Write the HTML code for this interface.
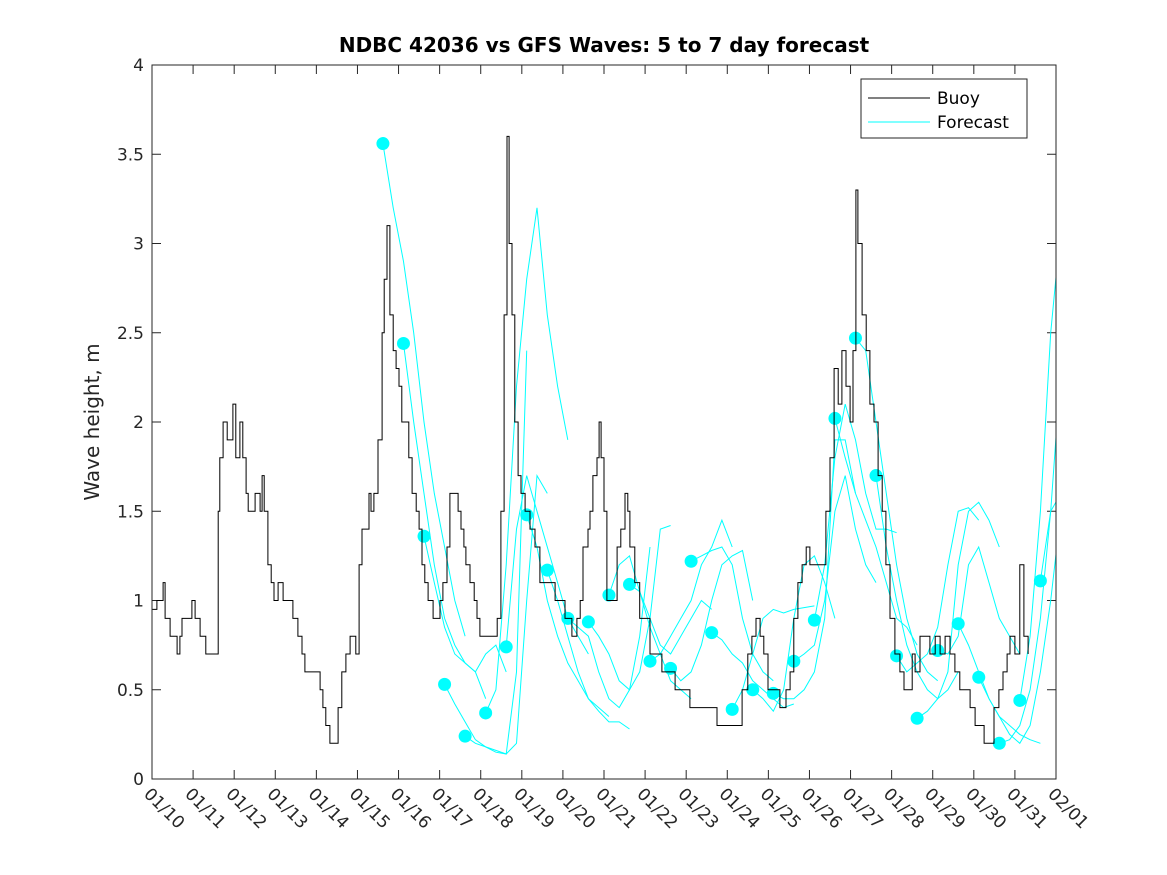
<!DOCTYPE html>
<html><head><meta charset="utf-8"><style>
html,body{margin:0;padding:0;background:#fff;}
svg{display:block;font-family:"DejaVu Sans","Liberation Sans",sans-serif;}
</style></head><body>
<svg id="chart" width="1167" height="875" viewBox="0 0 1167 875" xmlns="http://www.w3.org/2000/svg">
<rect width="1167" height="875" fill="#fff"/>
<text x="604" y="52" text-anchor="middle" font-size="20" font-weight="bold" fill="#000">NDBC 42036 vs GFS Waves: 5 to 7 day forecast</text>
<text transform="translate(99,422) rotate(-90)" text-anchor="middle" font-size="20" fill="#262626">Wave height, m</text>
<defs><clipPath id="plotclip"><rect x="152" y="65" width="904" height="714"/></clipPath></defs>
<g id="grid-ticks"></g>
<g id="forecast-g" clip-path="url(#plotclip)"></g>
<g id="buoy-g" clip-path="url(#plotclip)"></g>
<rect x="152" y="65" width="904" height="714" fill="none" stroke="#262626" stroke-width="1"/>
<g>
<rect x="861" y="79" width="166" height="59" fill="#fff" stroke="#262626" stroke-width="1"/>
<line x1="868" y1="98" x2="930" y2="98" stroke="#000" stroke-width="1"/>
<text x="937" y="104" font-size="17" fill="#000">Buoy</text>
<line x1="868" y1="122" x2="930" y2="122" stroke="#00ffff" stroke-width="1"/>
<text x="937" y="128" font-size="17" fill="#000">Forecast</text>
</g>
</svg>
<script>
const xTickLabels = ["01/10","01/11","01/12","01/13","01/14","01/15","01/16","01/17","01/18","01/19","01/20","01/21","01/22","01/23","01/24","01/25","01/26","01/27","01/28","01/29","01/30","01/31","02/01"];
const yTicks = [0,0.5,1,1.5,2,2.5,3,3.5,4];
const yTickLabels = ["0","0.5","1","1.5","2","2.5","3","3.5","4"];
const buoyDays = [0,.12,.24,.27,.32,.39,.44,.58,.61,.68,.73,.92,.97,1.05,1.17,1.27,1.31,1.53,1.61,1.65,1.73,1.83,1.95,1.97,2.04,2.14,2.21,2.29,2.34,2.51,2.63,2.68,2.73,2.82,2.90,2.97,3.07,3.19,3.33,3.43,3.55,3.65,3.72,3.94,4.09,4.16,4.23,4.33,4.45,4.53,4.62,4.72,4.82,4.92,4.96,5.04,5.11,5.21,5.28,5.33,5.40,5.50,5.60,5.65,5.72,5.79,5.87,5.94,6.01,6.08,6.16,6.25,6.33,6.43,6.50,6.57,6.64,6.72,6.84,6.91,7.01,7.08,7.18,7.25,7.37,7.45,7.52,7.59,7.64,7.74,7.84,7.91,7.98,8.10,8.23,8.35,8.40,8.49,8.57,8.64,8.69,8.76,8.83,8.91,8.98,9.08,9.20,9.32,9.44,9.56,9.68,9.81,9.93,10.05,10.17,10.22,10.34,10.42,10.49,10.61,10.66,10.73,10.83,10.88,10.93,11.00,11.07,11.15,11.22,11.32,11.41,11.51,11.58,11.63,11.75,11.87,12.00,12.12,12.31,12.41,12.73,12.85,13.09,13.70,13.75,14.31,14.36,14.50,14.60,14.70,14.80,14.89,14.99,15.16,15.28,15.43,15.53,15.62,15.72,15.82,15.92,16.01,16.14,16.26,16.40,16.50,16.60,16.70,16.79,16.89,16.99,17.06,17.13,17.18,17.28,17.38,17.47,17.57,17.67,17.77,17.86,17.96,18.08,18.20,18.30,18.45,18.50,18.57,18.69,18.81,18.93,19.06,19.18,19.30,19.42,19.54,19.66,19.81,19.91,20.03,20.15,20.25,20.39,20.49,20.61,20.71,20.81,20.88,21.00,21.12,21.22,21.32];
const buoyValues = [0.95,1.0,1.0,1.1,0.9,0.9,0.8,0.8,0.7,0.8,0.9,0.9,1.0,0.9,0.8,0.8,0.7,0.7,1.5,1.8,2.0,1.9,1.9,2.1,1.8,2.0,1.8,1.6,1.5,1.6,1.5,1.7,1.5,1.2,1.1,1.0,1.1,1.0,1.0,0.9,0.8,0.7,0.6,0.6,0.5,0.4,0.3,0.2,0.2,0.4,0.6,0.7,0.8,0.8,0.7,1.2,1.4,1.4,1.6,1.5,1.6,1.9,2.5,2.8,3.1,2.6,2.4,2.3,2.2,2.0,2.0,1.8,1.6,1.5,1.4,1.2,1.1,1.0,0.9,0.9,1.0,1.1,1.3,1.6,1.6,1.5,1.4,1.3,1.2,1.1,1.0,0.9,0.8,0.8,0.8,0.8,0.9,1.5,2.6,3.6,3.0,2.6,2.0,1.7,1.6,1.5,1.4,1.3,1.1,1.1,1.1,1.0,1.0,0.9,0.9,0.8,0.9,1.0,1.3,1.4,1.5,1.7,1.8,2.0,1.8,1.5,1.0,1.0,1.0,1.3,1.4,1.6,1.5,1.3,1.1,0.9,0.9,0.7,0.7,0.6,0.5,0.5,0.4,0.4,0.3,0.3,0.5,0.7,0.8,0.9,0.8,0.7,0.5,0.5,0.4,0.5,0.6,0.9,1.1,1.2,1.3,1.2,1.2,1.2,1.5,1.8,2.3,2.1,2.4,2.2,2.0,2.4,3.3,3.0,2.6,2.4,2.1,2.0,1.7,1.5,1.2,0.9,0.7,0.6,0.5,0.5,0.7,0.6,0.8,0.8,0.7,0.8,0.7,0.8,0.7,0.6,0.5,0.5,0.4,0.3,0.3,0.2,0.2,0.4,0.5,0.6,0.7,0.8,0.7,1.2,0.8,0.7];
const forecastStartDays = [5.62,6.12,6.62,7.12,7.62,8.12,8.62,9.12,9.62,10.12,10.62,11.12,11.62,12.12,12.62,13.12,13.62,14.12,14.62,15.12,15.62,16.12,16.62,17.12,17.62,18.12,18.62,19.12,19.62,20.12,20.62,21.12,21.62];
const forecastStepDays = 0.25;
const forecastValues = [
[3.56,3.2,2.9,2.5,2.0,1.6,1.3,1.0,0.8],
[2.44,2.0,1.6,1.2,0.9,0.75,0.65,0.6,0.45],
[1.36,1.1,0.85,0.7,0.65,0.6,0.7,0.75,0.6],
[0.53,0.42,0.32,0.22,0.18,0.15,0.14,0.6,2.4],
[0.24,0.2,0.18,0.16,0.14,0.2,1.0,1.7,1.6],
[0.37,0.5,1.2,2.2,2.8,3.2,2.6,2.2,1.9],
[0.74,1.4,1.7,1.5,1.3,1.1,0.9,0.8,0.7],
[1.48,1.3,1.0,0.8,0.65,0.55,0.45,0.4,0.35],
[1.17,1.0,0.8,0.6,0.45,0.38,0.32,0.32,0.28],
[0.9,0.85,0.8,0.6,0.45,0.4,0.5,0.8,1.3],
[0.88,0.8,0.7,0.55,0.5,0.6,0.9,1.4,1.42],
[1.03,1.2,1.25,1.05,0.85,0.7,0.55,0.5,0.45],
[1.09,1.05,0.9,0.75,0.7,0.8,0.9,1.0,0.95],
[0.66,0.7,0.8,0.9,1.0,1.2,1.3,1.45,1.3],
[0.62,0.55,0.6,0.75,1.0,1.2,1.25,1.28,1.0],
[1.22,1.25,1.28,1.3,1.2,0.9,0.7,0.6,0.55],
[0.82,0.78,0.7,0.65,0.55,0.5,0.45,0.4,0.42],
[0.39,0.5,0.7,0.9,0.95,0.93,0.95,0.96,0.97],
[0.5,0.45,0.38,0.5,0.9,1.2,1.25,1.1,0.9],
[0.48,0.45,0.45,0.5,0.6,0.9,1.9,1.9,1.6],
[0.66,0.7,0.75,1.0,1.5,1.7,1.4,1.2,1.1],
[0.89,1.2,1.8,2.1,1.9,1.6,1.4,1.4,1.38],
[2.02,1.8,1.6,1.45,1.3,1.1,0.9,0.85,0.75],
[2.47,2.4,2.0,1.6,1.2,0.9,0.7,0.6,0.55],
[1.7,1.3,1.0,0.75,0.6,0.5,0.45,0.5,0.6],
[0.69,0.6,0.65,0.7,0.85,1.2,1.5,1.52,1.45],
[0.34,0.38,0.45,0.6,1.2,1.5,1.55,1.45,1.3],
[0.72,0.7,0.8,1.2,1.3,1.1,0.9,0.8,0.7],
[0.87,0.75,0.6,0.45,0.35,0.3,0.25,0.22,0.2],
[0.57,0.45,0.35,0.25,0.2,0.3,0.6,1.0,1.5],
[0.2,0.22,0.3,0.5,0.9,1.5,1.6,1.55,1.5],
[0.44,0.8,1.5,2.5,3.1,3.15,3.1],
[1.11,1.5,2.3,2.8]
];
const NS="http://www.w3.org/2000/svg";
const X0=152,X1=1056,Y0=779,Y1=65,DAYS=22,YMAX=4;
function xs(d){return X0+(X1-X0)*d/DAYS;}
function ys(v){return Y0-(Y0-Y1)*v/YMAX;}
function mk(tag,attrs,parent){const e=document.createElementNS(NS,tag);for(const k in attrs)e.setAttribute(k,attrs[k]);parent.appendChild(e);return e;}
const gt=document.getElementById('grid-ticks');
xTickLabels.forEach((lab,i)=>{
  const x=xs(i);
  const t1=mk('line',{x1:x,y1:Y0,x2:x,y2:Y0-9,stroke:'#262626','stroke-width':1},gt);
  
  
  const t2=mk('line',{x1:x,y1:Y1,x2:x,y2:Y1+9,stroke:'#262626','stroke-width':1},gt);
  
  
  const tx=mk('text',{transform:`translate(${x-9},${Y0+16}) rotate(45)`,'font-size':17,fill:'#262626'},gt);
  tx.textContent=lab;
  
  
});
yTicks.forEach((v,i)=>{
  const y=ys(v);
  const t1=mk('line',{x1:X0,y1:y,x2:X0+9,y2:y,stroke:'#262626','stroke-width':1},gt);
  
  
  const t2=mk('line',{x1:X1,y1:y,x2:X1-9,y2:y,stroke:'#262626','stroke-width':1},gt);
  
  
  const tx=mk('text',{x:X0-8,y:y+6,'text-anchor':'end','font-size':17,fill:'#262626'},gt);
  tx.textContent=yTickLabels[i];
  
  
});
const fg=document.getElementById('forecast-g');
forecastValues.forEach((vals,i)=>{
  const pts=vals.map((v,j)=>xs(forecastStartDays[i]+j*forecastStepDays).toFixed(1)+','+ys(v).toFixed(1)).join(' ');
  const pl=mk('polyline',{points:pts,fill:'none',stroke:'#00ffff','stroke-width':1},fg);
  
  
});
forecastValues.forEach((vals,i)=>{
  const c=mk('circle',{cx:xs(forecastStartDays[i]),cy:ys(vals[0]),r:6.5,fill:'#00ffff'},fg);
  
  
});
const bg=document.getElementById('buoy-g');
let d='';
buoyDays.forEach((day,i)=>{
  const x=xs(day).toFixed(1),y=ys(buoyValues[i]).toFixed(1);
  if(i===0)d+=`M${x},${y}`;else d+=`H${x}V${y}`;
});
const bp=mk('path',{d:d,fill:'none',stroke:'#000','stroke-width':1},bg);


</script>
</body></html>
